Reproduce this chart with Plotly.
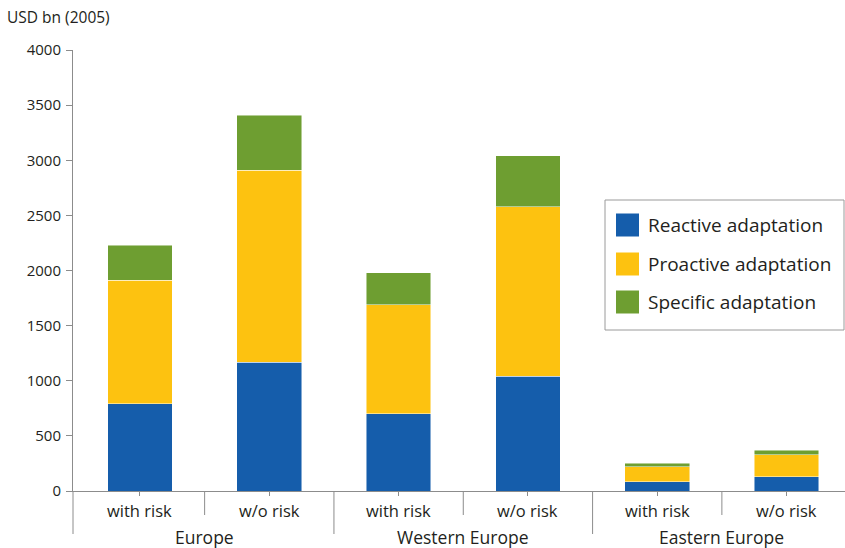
import plotly.graph_objects as go

categories = ["with risk", "w/o risk", "with risk", "w/o risk", "with risk", "w/o risk"]
groups = ["Europe", "Western Europe", "Eastern Europe"]
reactive = [790, 1170, 700, 1040, 85, 130]
proactive = [1120, 1740, 990, 1540, 135, 200]
specific = [320, 500, 290, 460, 30, 40]
series_names = ["Reactive adaptation", "Proactive adaptation", "Specific adaptation"]
colors = ["#155DAB", "#FDC210", "#6E9E31"]
y_ticks = [0, 500, 1000, 1500, 2000, 2500, 3000, 3500, 4000]

FONT = "Open Sans"
TXT = "#231f20"
GREY = "#8c8c8c"

xpos = list(range(len(categories)))
fig = go.Figure()
for name, vals, col in zip(series_names, [reactive, proactive, specific], colors):
    fig.add_trace(go.Bar(x=xpos, y=vals, name=name,
                         marker=dict(color=col, line=dict(color="rgba(255,255,255,0.6)", width=0.8)),
                         width=0.5, showlegend=False, hoverinfo="skip"))

W, H = 845, 548
L, R, T, B = 73, 0, 50, 57
pw = W - L - R
ph = H - T - B

def px_x(p):
    return (p - L) / pw

def px_y(p):
    return (H - B - p) / ph

shapes = []
annotations = []
for xv in [0.5, 2.5, 4.5]:
    shapes.append(dict(type="line", xref="x", yref="paper", x0=xv, x1=xv, y0=0, y1=px_y(515),
                       line=dict(color=GREY, width=1)))
for xv in [1.5, 3.5]:
    shapes.append(dict(type="line", xref="x", yref="paper", x0=xv, x1=xv, y0=0, y1=px_y(534),
                       line=dict(color=GREY, width=1)))
shapes.append(dict(type="line", xref="paper", yref="paper", x0=0, x1=0, y0=0, y1=px_y(534),
                   line=dict(color=GREY, width=1)))

for i, c in enumerate(categories):
    annotations.append(dict(x=i, y=px_y(511), xref="x", yref="paper", text=c, showarrow=False,
                            xanchor="center", yanchor="middle", font=dict(size=16.5, color=TXT, family=FONT)))
for j, g in enumerate(groups):
    annotations.append(dict(x=2 * j + 0.5, y=px_y(537), xref="x", yref="paper", text=g, showarrow=False,
                            xanchor="center", yanchor="middle", font=dict(size=17.5, color=TXT, family=FONT)))

shapes.append(dict(type="rect", xref="paper", yref="paper", x0=px_x(605), x1=px_x(844), y0=px_y(330), y1=px_y(200),
                   line=dict(color="#9a9a9a", width=1), fillcolor="white"))
for k, (name, col) in enumerate(zip(series_names, colors)):
    cy = [225, 264, 302][k]
    shapes.append(dict(type="rect", xref="paper", yref="paper", x0=px_x(616), x1=px_x(639),
                       y0=px_y(cy + 11.5), y1=px_y(cy - 11.5), line=dict(width=0), fillcolor=col))
    annotations.append(dict(x=px_x(646), y=px_y(cy), xref="paper", yref="paper", text=name, showarrow=False,
                            xanchor="left", yanchor="middle", font=dict(size=19, color=TXT, family=FONT)))

fig.update_layout(
    barmode="stack",
    width=W, height=H,
    margin=dict(l=L, r=R, t=T, b=B, pad=0, autoexpand=False),
    plot_bgcolor="white", paper_bgcolor="white",
    font=dict(family=FONT, size=15, color=TXT),
    title=dict(text="USD bn (2005)", x=7 / W, y=1 - 18 / H, xanchor="left", yanchor="middle",
               xref="container", yref="container", font=dict(size=15.5, color=TXT, family=FONT)),
    xaxis=dict(range=[-0.518, 5.452], tickvals=xpos, showticklabels=False, ticks="outside", ticklen=4,
               tickcolor=GREY, showline=True, linecolor=GREY, linewidth=1, showgrid=False, zeroline=False,
               automargin=False, fixedrange=True),
    yaxis=dict(range=[0, 4000], tickvals=y_ticks, ticks="outside", ticklen=6, tickcolor=GREY,
               showline=True, linecolor=GREY, linewidth=1, showgrid=False, zeroline=False,
               tickfont=dict(size=15, color=TXT, family=FONT), ticklabelstandoff=2, automargin=False,
               fixedrange=True),
    shapes=shapes,
    annotations=annotations,
    hovermode=False,
)

fig.write_html("out.html", config={"displayModeBar": False},
               post_script="document.body.style.margin='0';document.body.style.overflow='hidden';")
